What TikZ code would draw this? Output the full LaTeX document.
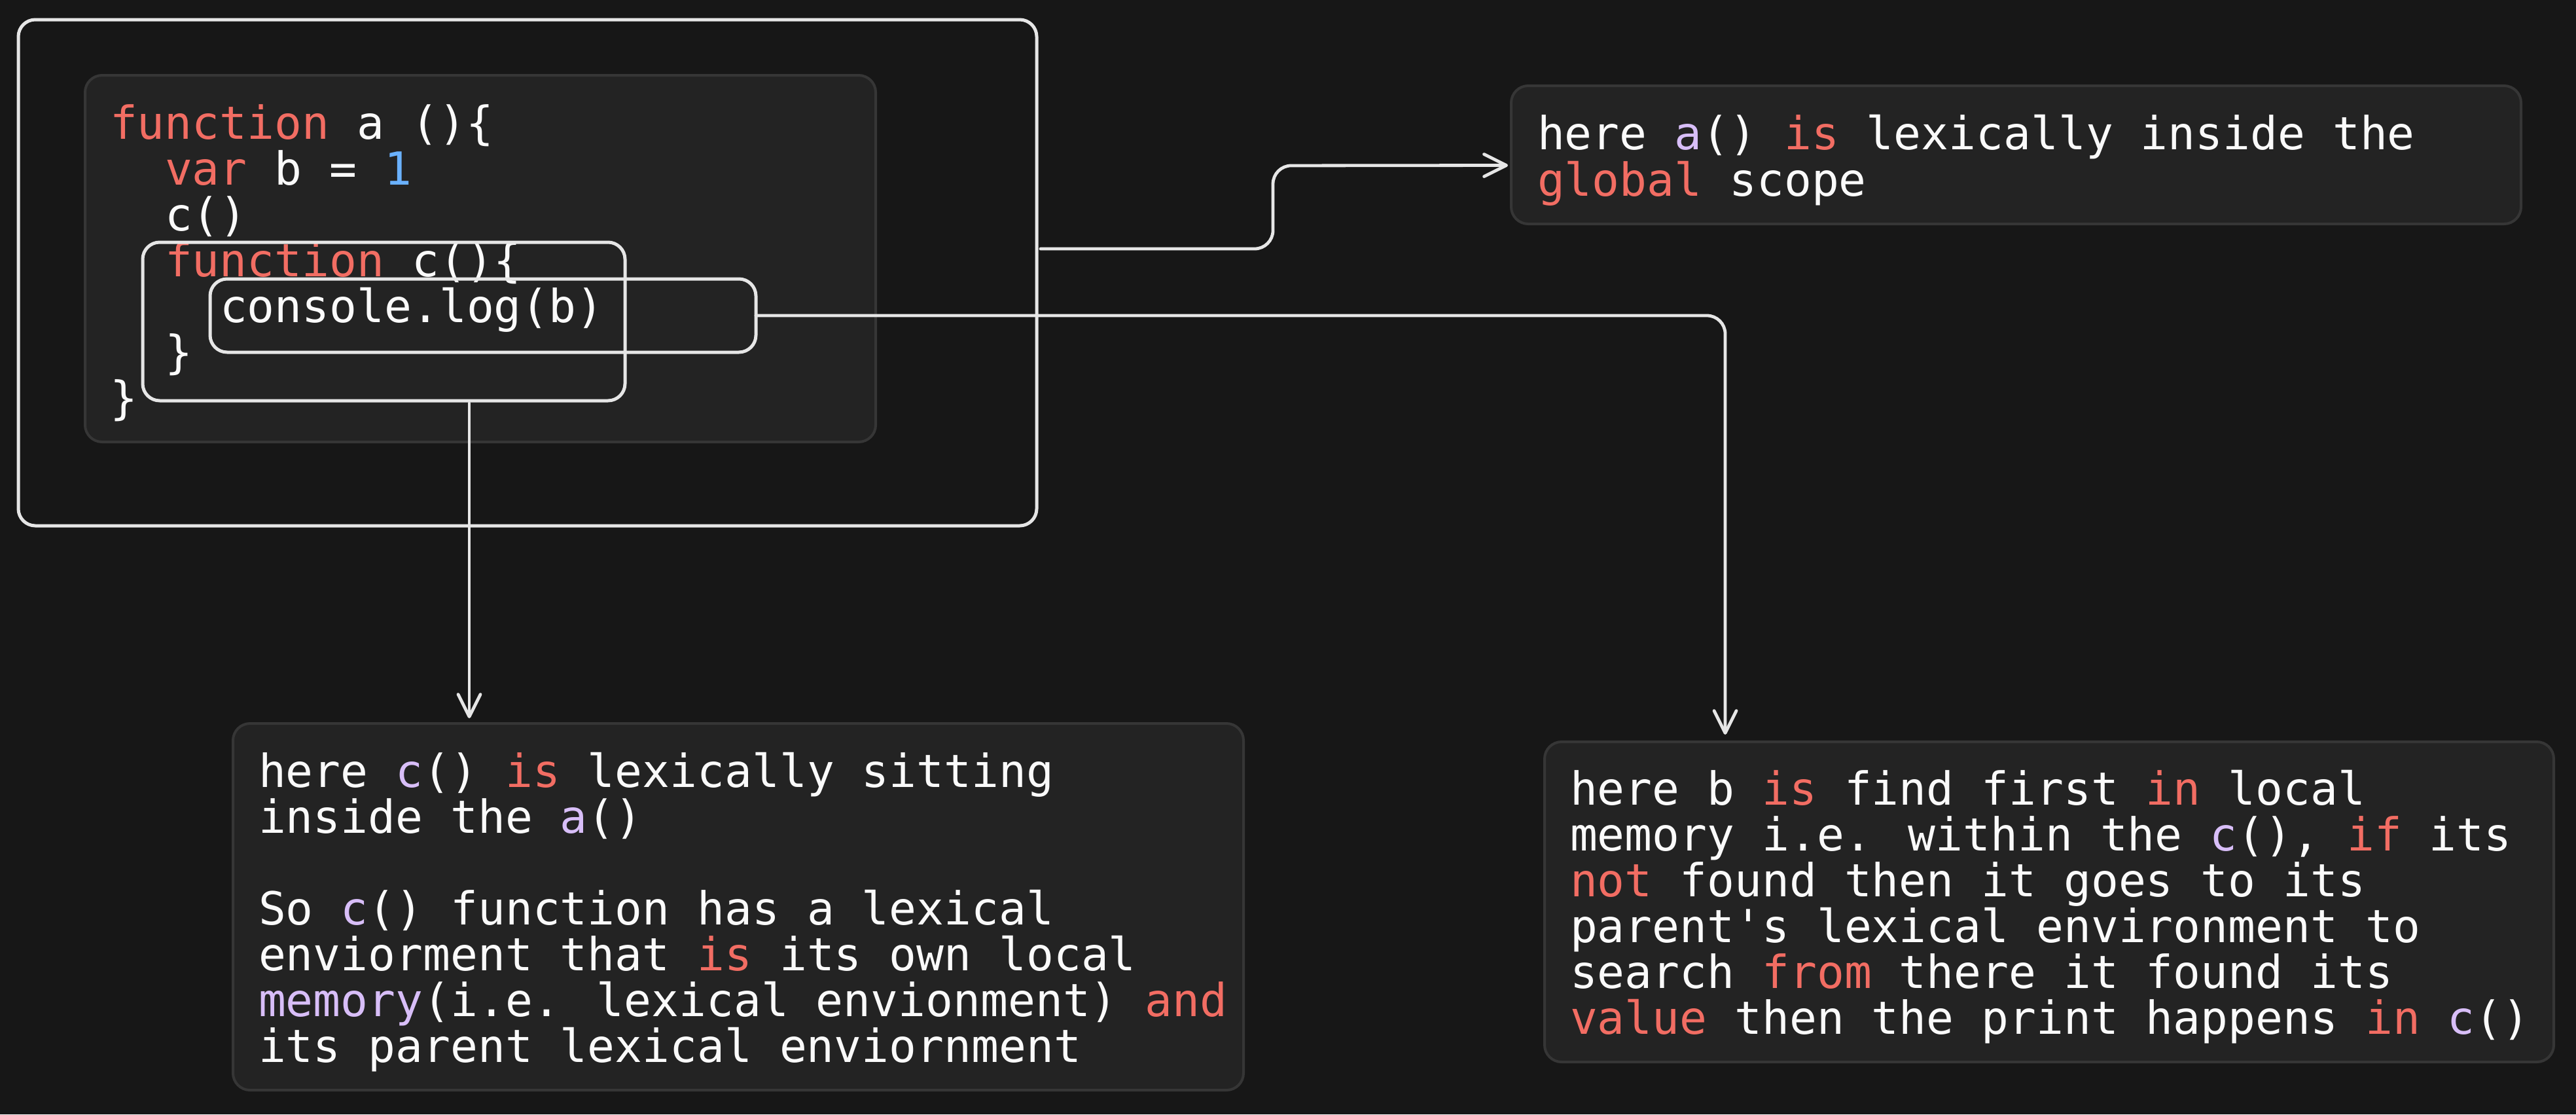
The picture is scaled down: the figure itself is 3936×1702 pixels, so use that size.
\documentclass[tikz,border=0pt]{standalone}
\usepackage{fontspec}
\usetikzlibrary{arrows.meta,calc,fit}
\newfontfamily\codefont{DejaVu Sans Mono}
\definecolor{bgc}{HTML}{171717}
\definecolor{boxfill}{HTML}{232323}
\definecolor{boxline}{HTML}{363636}
\definecolor{strokec}{HTML}{E6E6E6}
\definecolor{txtc}{HTML}{FAFAFA}
\definecolor{kred}{HTML}{F26D63}
\definecolor{kpurp}{HTML}{D8BEF8}
\definecolor{kblue}{HTML}{6AB1FF}
\newcommand\kr[1]{\textcolor{kred}{#1}}
\newcommand\kp[1]{\textcolor{kpurp}{#1}}
\newcommand\kb[1]{\textcolor{kblue}{#1}}
\begin{document}
\begin{tikzpicture}[x=0.25pt,y=-0.25pt,
  txt/.style={anchor=base west,inner sep=0pt,outer sep=0pt,text=txtc,
    font=\codefont\fontsize{17.4pt}{17.5pt}\selectfont},
  panel/.style={draw=boxline,line width=1pt,fill=boxfill,rounded corners=6.5pt,inner sep=0pt,outer sep=0pt},
  wbox/.style={draw=strokec,line width=1.25pt,rounded corners=6.5pt,inner sep=0pt,outer sep=0pt},
  conn/.style={draw=strokec,line width=1.2pt,rounded corners=7pt,line cap=round,
    -{Straight Barb[length=8.5pt,width=8.5pt,round]}}]
\fill[bgc] (0,0) rectangle (3936,1702);
\useasboundingbox (0,0) rectangle (3936,1702);
% boxes
\node[panel,fit={(130,115) (1338,675)}] (code) {};
\node[wbox,fit={(28,30) (1584,803)}] (outer) {};
\node[panel,fit={(2309,131) (3852,342)}] (ga) {};
\node[panel,fit={(356,1105) (1900,1665)}] (bl) {};
\node[panel,fit={(2360,1133) (3902,1622)}] (br) {};
% code text
\node[txt] (l1) at (168,212) {\kr{function} a ()\{};
\node[txt] (l2) at (252,282) {\kr{var} b = \kb{1}};
\node[txt] (l3) at (252,352) {c()};
\node[txt] (l4) at (252,422) {\kr{function} c()\{};
\node[txt] (l5) at (336,492) {console.log(b)};
\node[txt] (l6) at (252,562) {\}};
\node[txt] (l7) at (168,632) {\}};
\node[wbox,fit={(218,370) (955,612)}] (fc) {};
\node[wbox,fit={(321,426) (1155,538)}] (cl) {};
% top right text
\node[txt] (g1) at (2349,228) {here \kp{a}() \kr{is} lexically inside the};
\node[txt] (g2) at (2349,299) {\kr{global} scope};
% bottom left text
\node[txt] (c1) at (395,1202) {here \kp{c}() \kr{is} lexically sitting};
\node[txt] (c2) at (395,1272) {inside the \kp{a}()};
\node[txt] (c3) at (395,1412) {So \kp{c}() function has a lexical};
\node[txt] (c4) at (395,1482) {enviorment that \kr{is} its own local};
\node[txt] (c5) at (395,1552) {\kp{memory}(i.e. lexical envionment) \kr{and}};
\node[txt] (c6) at (395,1622) {its parent lexical enviornment};
% bottom right text
\node[txt] (b1) at (2399,1229) {here b \kr{is} find first \kr{in} local};
\node[txt] (b2) at (2399,1299) {memory i.e. within the \kp{c}(), \kr{if} its};
\node[txt] (b3) at (2399,1369) {\kr{not} found then it goes to its};
\node[txt] (b4) at (2399,1439) {parent\textquotesingle s lexical environment to};
\node[txt] (b5) at (2399,1509) {search \kr{from} there it found its};
\node[txt] (b6) at (2399,1579) {\kr{value} then the print happens \kr{in} \kp{c}()};
% connectors
\coordinate (s1) at ($(outer.north east)+(6,350)$);
\coordinate (k1) at (1945,380);
\coordinate (k2) at (1945,253);
\coordinate (t1) at ($(ga.west)+(-5,16)$);
\draw[conn] (s1) -- (k1) -- (k2) -- (t1);
\coordinate (k3) at (2636,482);
\coordinate (t2) at ($(br.north west)+(276,-11)$);
\draw[conn] (cl.east) -- (k3) -- (t2);
\coordinate (s3) at ($(fc.south west)+(499,4)$);
\coordinate (t3) at ($(bl.north west)+(361,-8)$);
\draw[conn] (s3) -- (t3);
\end{tikzpicture}
\end{document}
